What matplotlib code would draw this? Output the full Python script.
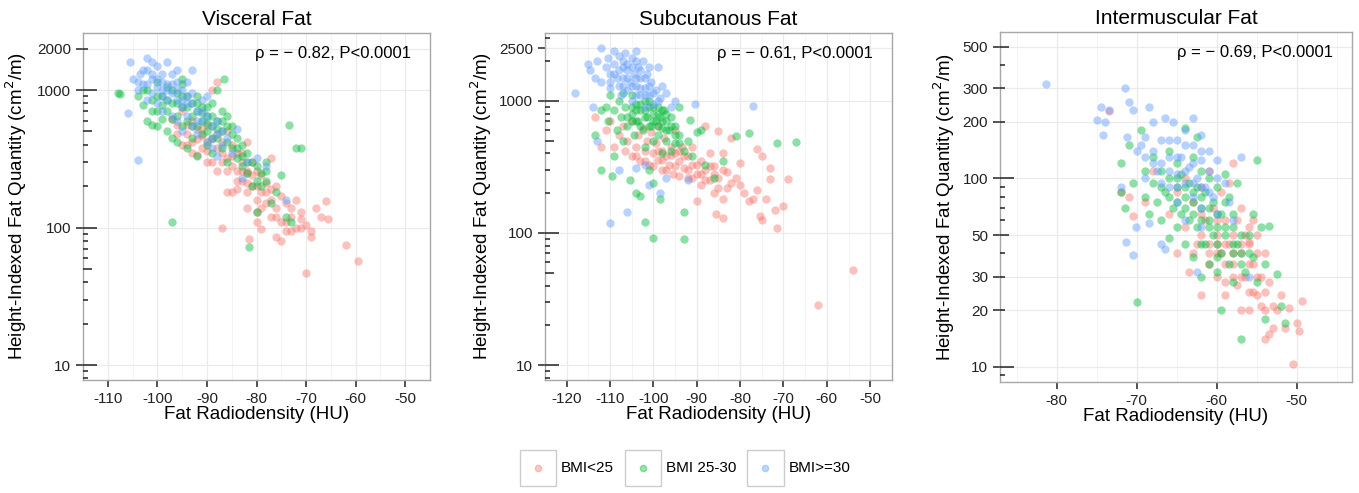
import matplotlib
matplotlib.use("Agg")
import matplotlib.pyplot as plt
from matplotlib.legend_handler import HandlerBase
from matplotlib.patches import Rectangle
from matplotlib.lines import Line2D
import numpy as np

plt.rcParams['font.family'] = ['Liberation Sans', 'DejaVu Sans']
plt.rcParams['axes.unicode_minus'] = False

groups = ['BMI<25', 'BMI 25-30', 'BMI>=30']
colors = ['#F8766D', '#00BA38', '#619CFF']

# ---- Visceral fat (HU, cm2/m) ----
vis_red_x = [-97, -96, -95, -94, -93, -93, -92, -91, -91, -90, -90, -89, -88, -88, -87, -87, -86, -86,
             -85, -85, -84, -84, -83, -83, -82, -82, -82, -81, -81, -80, -80, -80, -79, -79, -79, -78,
             -78, -77, -77, -77, -76, -76, -76, -75, -75, -75, -74, -74, -73, -73, -72, -71, -71, -70,
             -70, -69, -69, -68, -67, -66, -65.5, -62, -59.5, -87, -81.5, -82, -86, -84, -88, -92, -94, -90,
             -96, -95, -94, -93, -92, -91, -90, -89, -89, -88, -87, -86, -85, -84, -83, -83, -82, -81,
             -80, -79, -78, -77, -76, -74, -73, -72, -71, -85, -82, -80]
vis_red_y = [620, 560, 700, 480, 600, 420, 520, 460, 380, 560, 420, 1000, 1150, 480, 420, 350, 500, 320,
             400, 280, 350, 260, 300, 220, 420, 250, 180, 300, 200, 260, 160, 130, 240, 180, 97, 210,
             150, 320, 190, 120, 200, 140, 85, 170, 110, 80, 150, 95, 120, 95, 160, 130, 100, 105,
             47, 95, 85, 140, 120, 155, 115, 75, 57, 100, 83, 260, 180, 190, 380, 340, 400, 300,
             480, 400, 560, 350, 440, 520, 360, 440, 300, 260, 300, 260, 330, 220, 260, 350, 210, 240,
             200, 140, 180, 160, 120, 110, 140, 100, 115, 180, 140, 110]
vis_green_x = [-108, -107.5, -104, -103, -102, -102, -101, -101, -100, -100, -99, -99, -98, -98, -97, -97,
               -96, -96, -96, -95, -95, -95, -94, -94, -94, -93, -93, -93, -92, -92, -92, -92, -91, -91,
               -91, -90, -90, -90, -89, -89, -89, -88, -88, -88, -87, -87, -87, -86, -86, -86, -85, -85,
               -84, -84, -83, -83, -82, -82, -81, -81, -80, -80, -79, -78, -78, -76, -74, -73.5, -72, -71,
               -73, -97, -81.5, -77, -75, -86.5,
               -103, -101, -100, -99, -98, -97, -97, -96, -95, -94, -93, -92, -91, -90, -90, -89, -89,
               -88, -87, -86, -85, -84, -83, -82, -80, -79, -78, -95, -98, -100]
vis_green_y = [950, 930, 900, 780, 1000, 600, 850, 560, 1150, 700, 900, 620, 1050, 500, 800, 450,
               950, 650, 420, 1100, 750, 550, 900, 600, 380, 800, 650, 450, 900, 700, 550, 330, 750, 600,
               480, 650, 500, 400, 800, 550, 350, 1000, 600, 450, 700, 500, 380, 650, 420, 300, 550, 380,
               450, 320, 400, 280, 350, 250, 300, 200, 280, 130, 250, 300, 220, 180, 120, 560, 380, 380,
               110, 110, 72, 150, 240, 1200,
               1000, 700, 900, 780, 700, 1000, 620, 800, 900, 750, 550, 800, 680, 750, 580, 650, 450,
               520, 600, 550, 480, 380, 330, 300, 220, 200, 260, 1200, 850, 550]
vis_blue_x = [-106, -105.5, -105, -104, -104, -103.5, -103, -102, -102, -101, -101, -100, -100, -100, -99,
              -99, -99, -98, -98, -98, -97, -97, -97, -96, -96, -96, -95, -95, -95, -94, -94, -93, -93,
              -93, -92, -92, -91, -91, -90, -90, -89, -89, -88, -88, -87, -86, -85, -84, -83, -82, -80,
              -78, -74, -90, -94, -101,
              -104, -103, -102, -101, -100, -99, -98, -97, -96, -95, -94, -93, -92, -91, -89, -88, -87,
              -96, -99, -102]
vis_blue_y = [680, 1600, 1200, 310, 1000, 1300, 1100, 1700, 1400, 1200, 950, 1500, 1050, 800, 1300,
              1000, 700, 1600, 1100, 850, 1300, 950, 650, 1150, 850, 600, 1000, 750, 500, 900, 650, 1400, 800,
              550, 700, 480, 850, 600, 650, 420, 550, 380, 600, 330, 500, 450, 350, 520, 230, 300, 320,
              280, 160, 900, 1150, 1600,
              1150, 1400, 1100, 1300, 1200, 1150, 1000, 1100, 1000, 850, 800, 950, 600, 700, 450, 480, 400,
              1400, 900, 850]

# ---- Subcutaneous fat ----
sub_red_x = [-113.5, -112, -111, -110, -109, -108, -107, -106.5, -106, -105, -105, -104, -103.5, -103,
             -102.5, -102, -101.5, -101, -100.5, -100, -99.5, -99, -99, -98, -98, -97.5, -97, -96.5, -96,
             -95.5, -95, -95, -94, -94, -93.5, -93, -92, -92, -91, -91, -90, -90, -89, -89, -88, -88, -87,
             -87, -86, -86, -85, -85, -84, -84, -84, -83, -82, -82, -81, -80, -80, -79, -78, -77, -76, -76,
             -75.5, -75, -75, -74, -73, -73, -72, -71.5, -70, -69, -62, -54, -85.5,
             -104, -102, -100, -99, -98, -97, -96, -95, -94, -93, -92, -91, -90, -89, -88, -87, -86, -85,
             -84, -83]
sub_red_y = [760, 450, 600, 700, 450, 550, 650, 420, 500, 380, 700, 450, 550, 350,
             620, 420, 500, 330, 580, 400, 480, 360, 650, 420, 300, 520, 380, 330, 450,
             280, 400, 600, 350, 270, 450, 310, 380, 260, 330, 450, 280, 175, 350, 230, 650, 300, 400,
             250, 320, 200, 590, 260, 400, 180, 130, 290, 520, 240, 260, 340, 230, 200, 175, 180, 430, 210,
             135, 380, 125, 180, 310, 255, 150, 110, 160, 255, 28.5, 52, 140,
             380, 350, 320, 420, 360, 300, 390, 320, 420, 380, 300, 260, 330, 280, 250, 320, 280, 220,
             300, 220]
sub_green_x = [-113.5, -112, -111, -110.5, -110, -109.5, -109, -108.5, -108, -107.5, -107, -107, -106.5,
               -106, -105.5, -105, -105, -104.5, -104, -104, -103.5, -103, -103, -102.5, -102, -102, -101.5,
               -101, -101, -100.5, -100, -100, -100, -99.5, -99, -99, -98.5, -98.5, -98, -98, -97.5, -97,
               -97, -96.5, -96, -96, -95, -95, -94, -94, -93, -92, -91.5, -91, -90, -89, -88, -86, -84,
               -81, -78, -71.5, -67, -100, -93, -102, -93, -109, -112,
               -106, -105, -104, -104, -103, -103, -102, -102, -101, -100, -100, -99, -99, -98, -98, -97,
               -96, -95, -94, -97, -101, -105]
sub_green_y = [550, 300, 900, 700, 1100, 270, 850, 600, 1000, 750, 500, 1150, 900,
               650, 250, 800, 1100, 550, 950, 200, 700, 850, 190, 600, 1000, 450, 750,
               900, 300, 650, 800, 500, 240, 700, 900, 550, 750, 180, 620, 400, 850, 700,
               500, 600, 750, 420, 650, 480, 550, 900, 420, 500, 720, 380, 580, 600, 330, 260, 350,
               540, 570, 480, 490, 92, 90, 121, 145, 380, 850,
               750, 900, 700, 850, 650, 950, 750, 850, 650, 700, 900, 650, 800, 700, 850, 600,
               650, 550, 480, 800, 1000, 700]
sub_blue_x = [-118, -115, -114.5, -113.5, -113, -112, -112, -111, -110.5, -110, -110, -109, -109, -108.5,
              -108, -108, -107.5, -107, -107, -106.5, -106, -106, -105.5, -105, -105, -104.5, -104, -104,
              -103.5, -103, -103, -102.5, -102, -102, -101.5, -101, -100.5, -100, -99.5, -99, -98.5, -98,
              -97, -96, -95, -110, -106, -108, -104, -101, -98.5, -92, -90.5, -77, -113, -102, -97, -114,
              -109, -108, -107, -106, -105, -105, -104, -104, -103, -103, -102, -102, -101, -100, -99,
              -106, -107, -104, -101, -110]
sub_blue_y = [1150, 1900, 1700, 1500, 2000, 2500, 1400, 1800, 2100, 1600, 1250, 2400, 1900, 1500,
              2200, 1300, 1100, 1800, 1500, 2300, 1200, 1700, 1400, 2100, 1000, 1600, 2400, 1300,
              1800, 1100, 1500, 2000, 1250, 900, 1600, 1100, 1400, 950, 1200, 1800, 1050, 1300,
              1150, 900, 1000, 120, 145, 300, 310, 230, 200, 250, 950, 920, 500, 330, 260, 900,
              1600, 1700, 1300, 1500, 1800, 1300, 1500, 1100, 1700, 1250, 1500, 1100, 1300, 1150, 1000,
              1900, 2000, 2000, 1800, 1400]

# ---- Intermuscular fat ----
imf_red_x = [-73.5, -72, -71, -70.5, -69, -68, -66, -65, -65, -64, -64, -63.5, -63, -62.5, -62, -62, -61.5,
             -61, -61, -60.5, -60, -60, -59.5, -59.5, -59, -59, -58.5, -58.5, -58, -58, -57.5, -57.5, -57,
             -57, -57, -56.5, -56.5, -56, -56, -55.5, -55.5, -55.5, -55, -55, -54.5, -54.5, -54, -54, -54,
             -53.5, -53.5, -53, -53, -52.5, -51.5, -51, -50.5, -50, -49.7, -49.4, -56, -52, -60, -63,
             -62, -61, -60, -60, -59, -59, -58, -58, -57, -57, -56, -56, -55, -55, -54, -58, -61, -62,
             -59, -56]
imf_red_y = [228, 85, 80, 63, 75, 110, 65, 85, 40, 100, 55, 32, 75, 45, 24, 90, 60,
             110, 40, 70, 50, 30, 85, 40, 60, 24, 95, 45, 120, 35, 60, 27, 70,
             40, 20, 50, 30, 45, 20, 60, 35, 25, 50, 24, 30, 21, 40, 20, 14,
             28, 15, 21, 16, 20, 16, 20.5, 10.4, 17, 15.5, 22.4, 46, 24, 45, 40,
             50, 45, 40, 60, 45, 35, 50, 40, 45, 30, 35, 25, 30, 40, 25, 30, 35, 65,
             28, 55]
imf_green_x = [-72, -72, -71.5, -71, -70.5, -70, -69.5, -69, -69, -68.5, -68, -68, -67.5, -67, -67, -66.5,
               -66, -66, -66, -65.5, -65, -65, -65, -64.5, -64.5, -64, -64, -64, -63.5, -63.5, -63, -63,
               -63, -62.5, -62.5, -62.5, -62, -62, -62, -61.5, -61.5, -61, -61, -61, -60.5, -60.5, -60, -60,
               -60, -59.5, -59.5, -59.5, -59, -59, -58.5, -58.5, -58, -58, -57.5, -57.5, -57, -57, -56.5,
               -56, -55.5, -55.5, -55, -55, -54.5, -54, -53.5, -52.5, -52, -51.5, -54,
               -66, -65, -64, -64, -63, -63, -62, -62, -61, -61, -60, -60, -59, -59, -58, -58, -57, -57,
               -56, -65, -67, -60, -58, -62]
imf_green_y = [120, 85, 70, 150, 95, 22, 180, 110, 80, 65, 130, 95, 75, 110, 60, 85,
               140, 100, 48, 70, 120, 90, 55, 105, 65, 185, 80, 45, 95, 60, 130, 75,
               38, 165, 90, 55, 110, 70, 30, 85, 45, 100, 60, 35, 75, 50, 90, 55,
               32, 65, 40, 20, 105, 50, 80, 35, 55, 28, 45, 95, 40, 14, 32,
               50, 38, 65, 125, 28, 55, 35, 56, 31, 21, 17, 18,
               80, 75, 70, 90, 65, 85, 60, 80, 55, 70, 65, 45, 55, 75, 45, 65, 50, 35,
               40, 100, 90, 38, 40, 45]
imf_blue_x = [-81.3, -75, -74.5, -74, -74.2, -73.5, -71.5, -71.2, -71, -70.5, -70, -69.5, -69, -68.5, -68,
              -68, -67.5, -67, -67, -66.5, -66, -66, -65.5, -65, -65, -65, -64.5, -64, -64, -63.5, -63, -63,
              -63, -62.5, -62, -62, -62, -61.5, -61, -61, -60.5, -60, -60, -59, -58.5, -58, -57, -71.3,
              -70.5, -70.1, -68.5, -66.5, -67, -72, -69, -64, -62, -56, -62.5,
              -67, -66, -65, -65, -64, -64, -63, -63, -62, -61, -60, -66, -68, -69, -62]
imf_blue_y = [317, 205, 240, 200, 170, 230, 300, 165, 255, 230, 140, 150, 165, 240, 200,
              140, 110, 160, 95, 210, 130, 90, 200, 160, 105, 75, 130, 180, 95, 115, 210, 150,
              80, 100, 170, 125, 70, 90, 140, 110, 80, 125, 65, 95, 75, 60, 130, 46,
              39, 55, 58, 42, 45, 90, 100, 60, 55, 30, 32,
              120, 110, 130, 90, 110, 150, 120, 95, 90, 85, 100, 160, 120, 130, 140]

panels = [
    dict(title='Visceral Fat', rho='− 0.82',
         x=[vis_red_x, vis_green_x, vis_blue_x], y=[vis_red_y, vis_green_y, vis_blue_y],
         xlim=(-112.9, -47.0), ylim=(7.8, 2600), xticks=[-110, -100, -90, -80, -70, -60, -50],
         yticks=[10, 100, 1000, 2000], pos=[0.0611, 0.2292, 0.2553, 0.7039], ylab_x=-0.156),
    dict(title='Subcutanous Fat', rho='− 0.61',
         x=[sub_red_x, sub_green_x, sub_blue_x], y=[sub_red_y, sub_green_y, sub_blue_y],
         xlim=(-123.3, -46.7), ylim=(7.7, 3270), xticks=[-120, -110, -100, -90, -80, -70, -60, -50],
         yticks=[10, 100, 1000, 2500], pos=[0.4010, 0.2292, 0.2553, 0.7039], ylab_x=-0.147),
    dict(title='Intermuscular Fat', rho='− 0.69',
         x=[imf_red_x, imf_green_x, imf_blue_x], y=[imf_red_y, imf_green_y, imf_blue_y],
         xlim=(-87.1, -43.1), ylim=(8.3, 598), xticks=[-80, -70, -60, -50],
         yticks=[10, 20, 30, 50, 100, 200, 300, 500], pos=[0.7358, 0.2252, 0.2590, 0.7099], ylab_x=-0.122),
]

fig = plt.figure(figsize=(13.59, 4.93), dpi=100)

for p in panels:
    ax = fig.add_axes(p['pos'])
    for xs, ys, c in zip(p['x'], p['y'], colors):
        ax.scatter(xs, ys, s=36, color=c, alpha=0.45, linewidths=0, zorder=3)
    ax.set_yscale('log')
    ax.set_xlim(p['xlim'])
    ax.set_ylim(p['ylim'])
    ax.set_xticks(p['xticks'])
    ax.set_xticks(np.arange(p['xticks'][0] - 5, p['xticks'][-1] + 6, 10), minor=True)
    ax.set_yticks(p['yticks'])
    ax.set_yticklabels([str(v) for v in p['yticks']])
    ax.yaxis.set_minor_locator(matplotlib.ticker.NullLocator())
    ax.tick_params(axis='both', which='major', labelsize=11, colors='#222222', length=5, width=1.1)
    ax.tick_params(axis='x', which='minor', length=0)
    ax.grid(True, which='major', color='#ebebeb', lw=0.9, zorder=0)
    ax.grid(True, which='minor', axis='x', color='#f2f2f2', lw=0.6, zorder=0)
    ax.set_axisbelow(True)
    for sp in ax.spines.values():
        sp.set_color('#a8a8a8')
        sp.set_linewidth(1.0)

    # log ticks inside the left edge
    w = p['pos'][2] * 1359
    tr = ax.get_yaxis_transform()
    for d in range(0, 5):
        for k in range(1, 10):
            v = k * 10 ** d
            if p['ylim'][0] <= v <= p['ylim'][1]:
                L = 14 if k == 1 else (9 if k == 5 else 5)
                ax.plot([0, L / w], [v, v], transform=tr, color='#222222', lw=1.1,
                        solid_capstyle='butt', clip_on=False, zorder=4)

    ax.set_title(p['title'], fontsize=15, pad=6)
    ax.set_xlabel('Fat Radiodensity (HU)', fontsize=13.5)
    ax.xaxis.set_label_coords(0.5, -0.075)
    ax.set_ylabel('Height-Indexed Fat Quantity (cm$^2$/m)', fontsize=13.5)
    ax.yaxis.set_label_coords(p['ylab_x'], 0.5)
    ax.text(0.945, 0.94, 'ρ = ' + p['rho'] + ', P<0.0001', transform=ax.transAxes,
            ha='right', va='center', fontsize=12)


class KeyHandler(HandlerBase):
    def create_artists(self, legend, orig_handle, xdescent, ydescent, width, height, fontsize, trans):
        rect = Rectangle((-xdescent, -ydescent), width, height, facecolor='white',
                         edgecolor='#cccccc', lw=1.0, transform=trans)
        dot = Line2D([width / 2 - xdescent], [height / 2 - ydescent], marker='o', ms=4.5,
                     color=orig_handle.get_color(), alpha=0.4, linestyle='none', transform=trans)
        return [rect, dot]


handles = [Line2D([], [], color=c) for c in colors]
fig.legend(handles, groups, loc='center', bbox_to_anchor=(0.504, 0.051), ncol=3, frameon=False,
           fontsize=11, handler_map={Line2D: KeyHandler()}, handlelength=2.4, handleheight=3.3,
           handletextpad=0.3, columnspacing=0.7)

fig.savefig('out.png', dpi=100)
